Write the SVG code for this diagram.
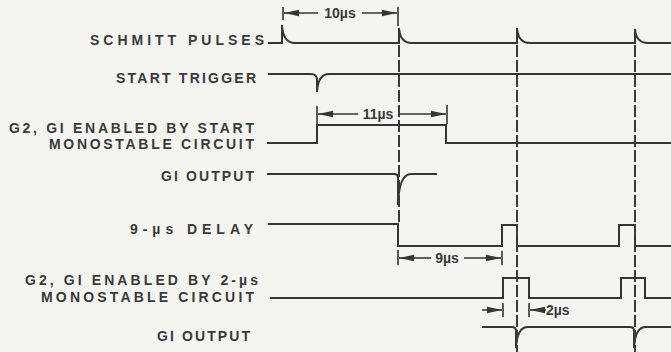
<svg xmlns="http://www.w3.org/2000/svg" width="671" height="352" viewBox="0 0 671 352">
<style>
.bg{fill:#f4f4f1}
.sig{fill:none;stroke:#353535;stroke-width:2;stroke-linejoin:miter}
.dash{fill:none;stroke:#3a3a3a;stroke-width:2;stroke-dasharray:12 3}
.dim{fill:none;stroke:#353535;stroke-width:1.6}
.lbl{font-family:"Liberation Sans",Arial,sans-serif;font-size:14px;font-weight:bold;fill:#3a3a3a}
.dt{font-family:"Liberation Sans",Arial,sans-serif;font-size:14px;font-weight:bold;fill:#3a3a3a}
</style>
<defs>
<marker id="ah" markerUnits="userSpaceOnUse" markerWidth="15" markerHeight="8" viewBox="0 0 15 8" refX="15" refY="4" orient="auto">
<path d="M0,0.8 L15,4 L0,7.2 Z" fill="#353535"/>
</marker>
</defs>
<rect class="bg" x="0" y="0" width="671" height="352"/>

<g id="schmitt">
<text class="lbl" x="90" y="45" textLength="174" lengthAdjust="spacing">SCHMITT PULSES</text>
<path class="sig" d="M268,43 H282 V25 Q283,43 295,43 H399 V28 Q400,43 412,43 H517 V28 Q518,43 530,43 H635 V29 Q636,43 648,43 H671"/>
</g>

<g id="start-trigger">
<text class="lbl" x="116" y="83" textLength="140" lengthAdjust="spacing">START TRIGGER</text>
<path class="sig" d="M268,74 H311 Q317,74 317,80 V92 Q318,74 329,74 H671"/>
</g>

<g id="start-monostable">
<text class="lbl" x="9" y="133" textLength="245" lengthAdjust="spacing">G2, GI ENABLED BY START</text>
<text class="lbl" x="49" y="149" textLength="205" lengthAdjust="spacing">MONOSTABLE CIRCUIT</text>
<path class="sig" d="M267,143 H317 V125 H446 V143 H671"/>
</g>

<g id="gi-output-1">
<text class="lbl" x="161" y="181" textLength="93" lengthAdjust="spacing">GI OUTPUT</text>
<path class="sig" d="M267,174 H394 Q398,174 398,178 V205 Q399,174 411,174 H437"/>
</g>

<g id="delay-9us">
<text class="lbl" x="130" y="234" textLength="123" lengthAdjust="spacing">9-µs DELAY</text>
<path class="sig" d="M268,224 H398 V246 H502 V225 H517 V246 H619 V225 H635 V246 H671"/>
</g>

<g id="monostable-2us">
<text class="lbl" x="25" y="285" textLength="233" lengthAdjust="spacing">G2, GI ENABLED BY 2-µs</text>
<text class="lbl" x="41" y="302" textLength="213" lengthAdjust="spacing">MONOSTABLE CIRCUIT</text>
<path class="sig" d="M270,298 H503 V278 H529 V298 H621 V278 H645 V298 H671"/>
</g>

<g id="gi-output-2">
<text class="lbl" x="157" y="341" textLength="93" lengthAdjust="spacing">GI OUTPUT</text>
<path class="sig" d="M482,327 H512 Q516,327 516,331 V348 Q517,327 528,327 H630 Q634,327 634,331 V348 Q635,327 646,327 H671"/>
</g>

<g id="connectors">
<path class="dash" d="M399,45 V224"/>
<path class="dash" d="M517,45 V352"/>
<path class="dash" d="M635,45 V352"/>

<!-- 10us -->
<path class="dim" d="M283,7 V20 M398,7 V26"/>
<line class="dim" x1="318" y1="13" x2="284" y2="13" marker-end="url(#ah)"/>
<line class="dim" x1="362" y1="13" x2="397" y2="13" marker-end="url(#ah)"/>
<text class="dt" x="340" y="18" text-anchor="middle">10µs</text>

<!-- 11us -->
<path class="dim" d="M317,106 V124 M447,105 V124"/>
<line class="dim" x1="358" y1="114" x2="318" y2="114" marker-end="url(#ah)"/>
<line class="dim" x1="399" y1="114" x2="446" y2="114" marker-end="url(#ah)"/>
<text class="dt" x="378" y="119" text-anchor="middle">11µs</text>

<!-- 9us -->
<path class="dim" d="M398,250 V265 M502,251 V265"/>
<line class="dim" x1="431" y1="258" x2="399" y2="258" marker-end="url(#ah)"/>
<line class="dim" x1="464" y1="258" x2="501" y2="258" marker-end="url(#ah)"/>
<text class="dt" x="447" y="263" text-anchor="middle">9µs</text>

<!-- 2us -->
<path class="dim" d="M503,303 V317 M529,303 V317"/>
<line class="dim" x1="482" y1="310" x2="502" y2="310" marker-end="url(#ah)"/>
<line class="dim" x1="546" y1="310" x2="530" y2="310" marker-end="url(#ah)"/>
<text class="dt" x="546" y="315">2µs</text>
</g>
</svg>
